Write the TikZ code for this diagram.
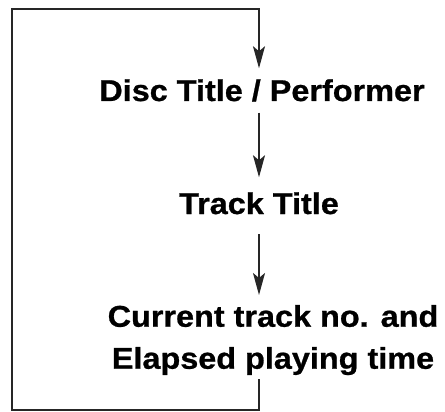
\documentclass[tikz,border=0pt]{standalone}
\usepackage{fontspec}
\newfontfamily\lblfont[FakeStretch=1.08,FakeBold=0.8]{Liberation Sans}
\usetikzlibrary{arrows.meta}
\begin{document}
\begin{tikzpicture}[x=1pt,y=-1pt,
  lbl/.style={inner sep=0pt,outer sep=0pt,font=\lblfont\bfseries\fontsize{30}{42}\selectfont,align=center},
  flow/.style={line width=1.8pt,draw=black!85,line join=miter,
    -{Stealth[length=22pt,width=12pt,inset=5pt]}}]
\useasboundingbox (0,0) rectangle (445,412);
\coordinate (tr) at (259,9);
\coordinate (tl) at (12,9);
\coordinate (bl) at (12,410);
\coordinate (br) at (259,410);
\node[lbl,anchor=base] (disc) at (262,101) {Disc Title / Performer};
\node[lbl,anchor=base] (track) at (259,214) {Track Title};
\node[lbl,anchor=north] (cur) at (273,305) {Current track no. and\\Elapsed playing time};
\draw[flow,shorten <=11pt,shorten >=15pt] (disc.south -| tr) -- (track.north -| tr);
\draw[flow,shorten <=20pt,shorten >=10pt] (track.south -| tr) -- (cur.north -| tr);
\draw[flow,shorten <=4pt,shorten >=11pt] (cur.south -| tr) -- (br) -- (bl) -- (tl) -- (tr) -- (disc.north -| tr);
\end{tikzpicture}
\end{document}
